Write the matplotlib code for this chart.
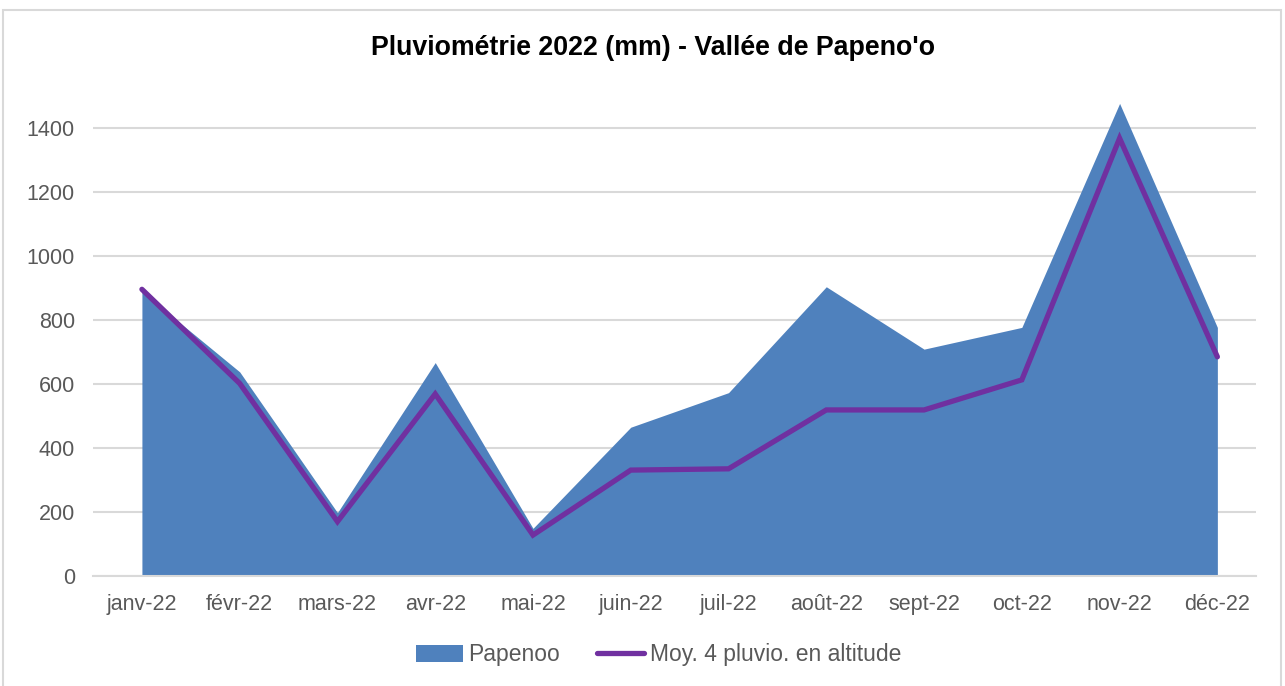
import matplotlib.pyplot as plt
from matplotlib.patches import Rectangle

months = ["janv-22", "févr-22", "mars-22", "avr-22", "mai-22", "juin-22",
          "juil-22", "août-22", "sept-22", "oct-22", "nov-22", "déc-22"]
papenoo = [888, 637, 197, 666, 148, 464, 572, 903, 708, 776, 1476, 776]
moy_altitude = [895, 601, 169, 568, 127, 330, 334, 518, 518, 612, 1367, 684]
yticks = [0, 200, 400, 600, 800, 1000, 1200, 1400]

plt.rcParams['font.family'] = ['Liberation Sans', 'DejaVu Sans']

fig = plt.figure(figsize=(12.85, 6.86), dpi=100)
ax = fig.add_axes([0.0724, 0.1608, 0.9054, 0.695])

x = list(range(len(months)))
ax.fill_between(x, 0, papenoo, color='#4F81BD', linewidth=0, label='Papenoo', zorder=2)
ax.plot(x, moy_altitude, color='#7030A0', linewidth=3.8, solid_capstyle='round',
        solid_joinstyle='miter', label='Moy. 4 pluvio. en altitude', zorder=3)

ax.set_xlim(-0.5, 11.4)
ax.set_ylim(0, 1490)
ax.set_yticks(yticks)
ax.set_xticks(x)
ax.set_xticklabels(months)
ax.yaxis.grid(True, color='#D9D9D9', linewidth=1.5, zorder=0)
ax.set_axisbelow(True)
for side in ['top', 'right', 'left']:
    ax.spines[side].set_visible(False)
ax.spines['bottom'].set_color('#D9D9D9')
ax.spines['bottom'].set_linewidth(1.5)
ax.tick_params(axis='both', length=0, colors='#595959', labelsize=15.5)
ax.tick_params(axis='x', pad=13)
ax.tick_params(axis='y', pad=13)

fig.text(0.508, 0.93, "Pluviométrie 2022 (mm) - Vallée de Papeno'o", ha='center', va='center',
         fontsize=19.3, fontweight='bold', color='black')

leg = ax.legend(loc='center', bbox_to_anchor=(0.486, -0.166), ncol=2, frameon=False,
                fontsize=16.5, handlelength=2.05, handleheight=0.75, columnspacing=1.6,
                handletextpad=0.26)
for t in leg.get_texts():
    t.set_color('#595959')

fig.patches.append(Rectangle((3 / 1285, -0.01), 1278 / 1285, 1 - 10 / 686 + 0.01,
                             transform=fig.transFigure, fill=False,
                             edgecolor='#D9D9D9', linewidth=1.5))

fig.savefig('out.png', dpi=100)
